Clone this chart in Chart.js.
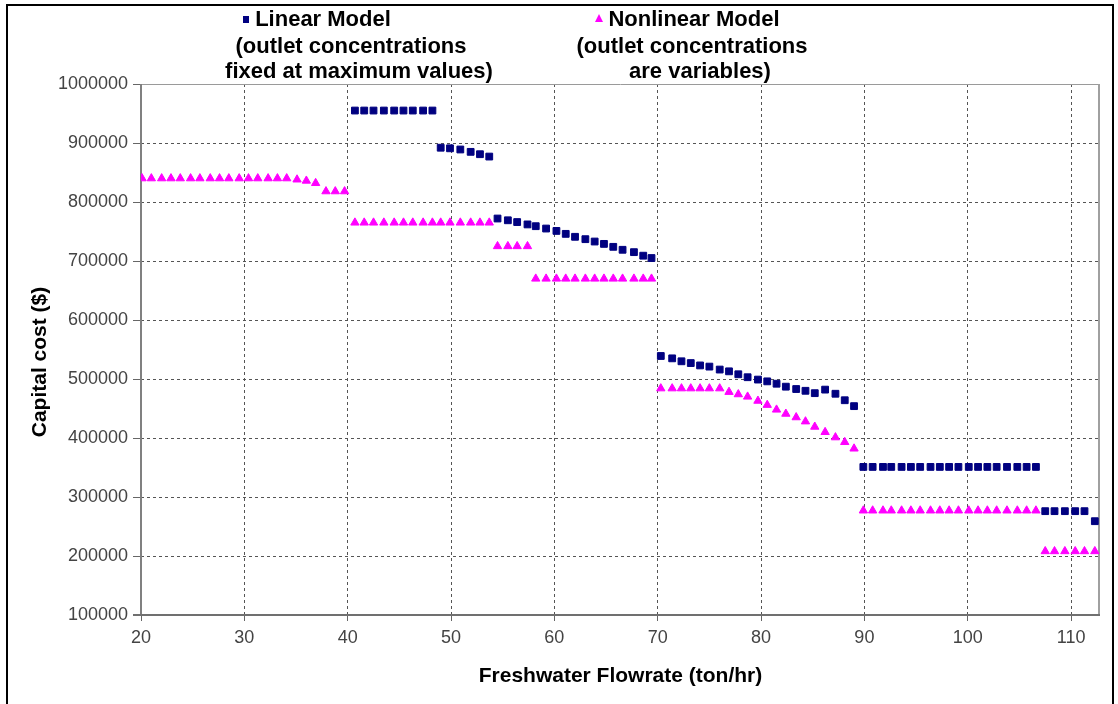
<!DOCTYPE html>
<html><head><meta charset="utf-8">
<script src="https://cdn.jsdelivr.net/npm/chart.js@4/dist/chart.umd.min.js"></script>
<style>html,body{margin:0;padding:0;background:#fff;}#wrap{width:1118px;height:704px;}</style>
</head><body><div id="wrap"><canvas id="c" width="1118" height="704"></canvas></div>
<script>
const linearX = [40.7, 41.6, 42.5, 43.5, 44.5, 45.4, 46.3, 47.3, 48.2,
  49.0, 49.9, 50.9, 51.9, 52.8, 53.7,
  54.5, 55.5, 56.4, 57.4, 58.2, 59.2, 60.2, 61.1, 62.0, 63.0, 63.9, 64.8, 65.7, 66.6, 67.7, 68.6, 69.4,
  70.3, 71.4, 72.3, 73.2, 74.1, 75.0, 76.0, 76.9, 77.8, 78.7, 79.7, 80.6, 81.5, 82.4, 83.4, 84.3, 85.2, 86.2, 87.2, 88.1, 89.0,
  89.9, 90.8, 91.8, 92.6, 93.6, 94.5, 95.4, 96.4, 97.3, 98.2, 99.1, 100.1, 101.0, 101.9, 102.8, 103.8, 104.8, 105.7, 106.6,
  107.5, 108.4, 109.4, 110.4, 111.3, 112.3];
const linearY = [955000, 955000, 955000, 955000, 955000, 955000, 955000, 955000, 955000,
  892000, 891000, 889000, 885000, 881000, 877000,
  772000, 769000, 766000, 762000, 759000, 755000, 751000, 746000, 741000, 737000, 733000, 729000, 724000, 719000, 715000, 709000, 705000,
  539000, 535000, 530000, 527000, 523000, 521000, 516000, 513000, 508000, 503000, 499000, 496000, 492000, 487000, 483000, 480000, 476000, 482000, 475000, 464000, 454000,
  351000, 351000, 351000, 351000, 351000, 351000, 351000, 351000, 351000, 351000, 351000, 351000, 351000, 351000, 351000, 351000, 351000, 351000, 351000,
  276000, 276000, 276000, 276000, 276000, 259000];
const nonlinearX = [20.1, 21.0, 22.0, 22.9, 23.8, 24.8, 25.7, 26.7, 27.6, 28.5, 29.5, 30.4, 31.3, 32.3, 33.2, 34.1, 35.1, 36.0, 36.9, 37.9, 38.8, 39.7,
  40.7, 41.6, 42.5, 43.5, 44.5, 45.4, 46.3, 47.3, 48.2, 49.0, 49.9, 50.9, 51.9, 52.8, 53.7,
  54.5, 55.5, 56.4, 57.4,
  58.2, 59.2, 60.2, 61.1, 62.0, 63.0, 63.9, 64.8, 65.7, 66.6, 67.7, 68.6, 69.4,
  70.3, 71.4, 72.3, 73.2, 74.1, 75.0, 76.0, 76.9, 77.8, 78.7, 79.7, 80.6, 81.5, 82.4, 83.4, 84.3, 85.2, 86.2, 87.2, 88.1, 89.0,
  89.9, 90.8, 91.8, 92.6, 93.6, 94.5, 95.4, 96.4, 97.3, 98.2, 99.1, 100.1, 101.0, 101.9, 102.8, 103.8, 104.8, 105.7, 106.6,
  107.5, 108.4, 109.4, 110.4, 111.3, 112.3];
const nonlinearY = [840000, 840000, 840000, 840000, 840000, 840000, 840000, 840000, 840000, 840000, 840000, 840000, 840000, 840000, 840000, 840000, 838000, 836000, 832000, 818000, 818000, 818000,
  765000, 765000, 765000, 765000, 765000, 765000, 765000, 765000, 765000, 765000, 765000, 765000, 765000, 765000, 765000,
  725000, 725000, 725000, 725000,
  670000, 670000, 670000, 670000, 670000, 670000, 670000, 670000, 670000, 670000, 670000, 670000, 670000,
  484000, 484000, 484000, 484000, 484000, 484000, 484000, 478000, 474000, 470000, 463000, 456000, 448000, 441000, 435000, 428000, 419000, 410000, 401000, 393000, 382000,
  277000, 277000, 277000, 277000, 277000, 277000, 277000, 277000, 277000, 277000, 277000, 277000, 277000, 277000, 277000, 277000, 277000, 277000, 277000,
  208000, 208000, 208000, 208000, 208000, 208000];
const xTicks = [20, 30, 40, 50, 60, 70, 80, 90, 100, 110];
const yTicks = [100000, 200000, 300000, 400000, 500000, 600000, 700000, 800000, 900000, 1000000];
const legendLinear = ['Linear Model', '(outlet concentrations', 'fixed at maximum values)'];
const legendNonlinear = ['Nonlinear Model', '(outlet concentrations', 'are variables)'];
const xTitle = 'Freshwater Flowrate (ton/hr)';
const yTitle = 'Capital cost ($)';

const FONT = 'Arial, "Liberation Sans", sans-serif';

const decor = {
  id: 'decor',
  beforeDatasetsDraw(chart) {
    const {ctx, chartArea: a} = chart;
    ctx.save();
    ctx.strokeStyle = '#9a9a9a'; ctx.lineWidth = 1;
    ctx.beginPath(); ctx.moveTo(a.left, a.top + 0.5); ctx.lineTo(a.right, a.top + 0.5); ctx.stroke();
    ctx.strokeStyle = '#a0a0a0'; ctx.lineWidth = 2;
    ctx.beginPath(); ctx.moveTo(a.right - 1, a.top); ctx.lineTo(a.right - 1, a.bottom); ctx.stroke();
    ctx.strokeStyle = '#808080'; ctx.lineWidth = 2;
    ctx.beginPath(); ctx.moveTo(a.left, a.top); ctx.lineTo(a.left, a.bottom); ctx.stroke();
    ctx.strokeStyle = '#707070'; ctx.lineWidth = 2;
    ctx.beginPath(); ctx.moveTo(a.left - 8, a.bottom); ctx.lineTo(a.right, a.bottom); ctx.stroke();
    ctx.restore();
  },
  afterDraw(chart) {
    const {ctx, chartArea: a} = chart;
    ctx.save();
    ctx.strokeStyle = '#000'; ctx.lineWidth = 2;
    ctx.beginPath(); ctx.moveTo(7, 710); ctx.lineTo(7, 5); ctx.lineTo(1113, 5); ctx.lineTo(1113, 710); ctx.stroke();
    ctx.fillStyle = '#000';
    ctx.font = 'bold 22px ' + FONT;
    ctx.textAlign = 'center'; ctx.textBaseline = 'middle';
    const ys = [20, 47, 72];
    const c1 = [323, 351, 359], c2 = [694, 692, 700];
    legendLinear.forEach((t, i) => ctx.fillText(t, c1[i], ys[i]));
    legendNonlinear.forEach((t, i) => ctx.fillText(t, c2[i], ys[i]));
    ctx.fillStyle = '#000080';
    ctx.fillRect(243, 16, 6, 7);
    ctx.fillStyle = '#FF00FF';
    ctx.beginPath(); ctx.moveTo(599, 14); ctx.lineTo(603, 22); ctx.lineTo(595, 22); ctx.closePath(); ctx.fill();
    ctx.fillStyle = '#000';
    ctx.font = 'bold 21px ' + FONT;
    ctx.fillText(xTitle, (a.left + a.right) / 2, 676);
    ctx.translate(40, 362); ctx.rotate(-Math.PI / 2);
    ctx.fillText(yTitle, 0, 0);
    ctx.restore();
  }
};

new Chart(document.getElementById('c'), {
  type: 'scatter',
  data: {
    datasets: [
      {
        label: legendLinear.join(' '),
        data: linearX.map((x, i) => ({x: x, y: linearY[i]})),
        pointStyle: 'rect', pointRadius: 4.8, pointHoverRadius: 4.8,
        backgroundColor: '#000080', borderColor: '#000080', borderWidth: 1, showLine: false
      },
      {
        label: legendNonlinear.join(' '),
        data: nonlinearX.map((x, i) => ({x: x, y: nonlinearY[i]})),
        pointStyle: 'triangle', pointRadius: 4.8, pointHoverRadius: 4.8,
        backgroundColor: '#FF00FF', borderColor: '#FF00FF', borderWidth: 1, showLine: false
      }
    ]
  },
  options: {
    responsive: false, animation: false, devicePixelRatio: 1,
    layout: {padding: {left: 0, top: 84, right: 18, bottom: 0}},
    plugins: {legend: {display: false}, tooltip: {enabled: false}, title: {display: false}},
    scales: {
      x: {
        type: 'linear', min: 20, max: 112.8,
        afterBuildTicks: s => { s.ticks = xTicks.map(v => ({value: v})); },
        afterFit: s => { s.height = 89; },
        grid: {color: '#555', lineWidth: 1, tickLength: 6, tickColor: '#666', drawTicks: true},
        border: {display: false, dash: [3, 3]},
        ticks: {color: '#444', font: {family: FONT, size: 18}, padding: 6, maxRotation: 0, autoSkip: false}
      },
      y: {
        type: 'linear', min: 100000, max: 1000000,
        afterBuildTicks: s => { s.ticks = yTicks.map(v => ({value: v})); },
        afterFit: s => { s.width = 141; },
        grid: {color: '#555', lineWidth: 1, tickLength: 8, tickColor: '#666', drawTicks: true},
        border: {display: false, dash: [3, 3]},
        ticks: {color: '#444', font: {family: FONT, size: 18}, padding: 5, autoSkip: false, callback: v => String(v)}
      }
    }
  },
  plugins: [decor]
});
</script>
</body></html>
